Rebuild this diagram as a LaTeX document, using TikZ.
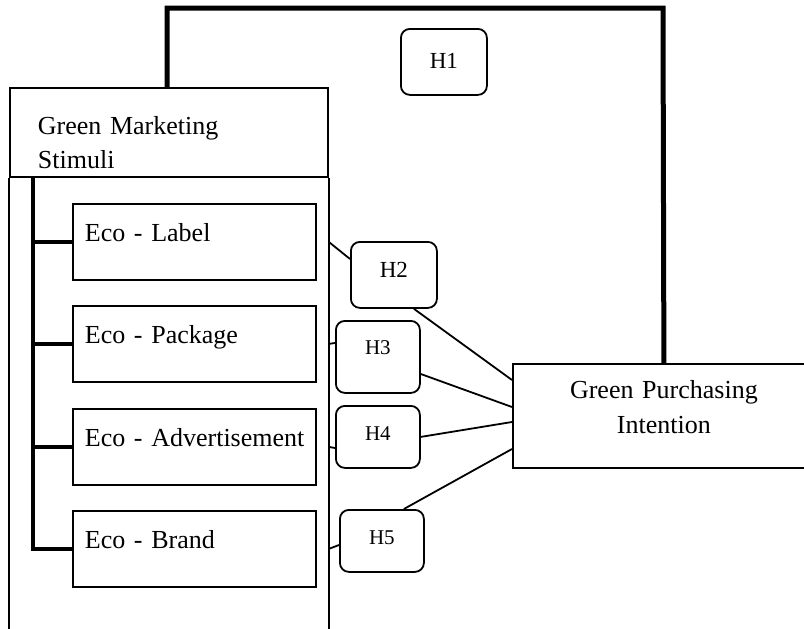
\documentclass[tikz,border=0pt]{standalone}
\usepackage{fontspec}
\setmainfont{Liberation Serif}
\usetikzlibrary{calc}
\begin{document}
\begin{tikzpicture}[x=1pt,y=-1pt,
  thinline/.style={line width=1.8pt},
  thickline/.style={line width=5pt, line join=miter},
  spine/.style={line width=3.6pt},
  box/.style={draw, line width=1.8pt, rectangle, inner sep=0pt, anchor=north west},
  ecobox/.style={box, text width=219pt, inner xsep=12pt, align=left,
    text height=38pt, text depth=38pt, font=\fontsize{26}{30}\selectfont},
  hbox/.style={box, rounded corners=9pt, align=center},
]
\useasboundingbox (0,0) rectangle (804,629);
\clip (0,0) rectangle (804,629);
\fill[white] (0,0) rectangle (804,629);

% header of the stimuli block
\node[box, text width=262pt, inner xsep=28pt, align=left, text height=47pt, text depth=42pt,
  font=\fontsize{26}{34}\selectfont] (gms) at (9,87) {Green Marketing\\Stimuli};
\draw[thinline] (gms.south west) -- ++(0,470);
\draw[thinline] (gms.south east) -- ++(0,470);

% eco boxes
\node[ecobox] (elabel) at (72,203) {\mbox{Eco - Label}};
\node[ecobox] (epack) at (72,305) {\mbox{Eco - Package}};
\node[ecobox] (eadv) at (72,408) {\mbox{Eco - Advertisement}};
\node[ecobox] (ebrand) at (72,510) {\mbox{Eco - Brand}};

% spine
\coordinate (spt) at ($(gms.south west)+(24,0)$);
\draw[spine] (spt) |- (ebrand.west);
\draw[spine] (elabel.west) -- (elabel.west -| spt);
\draw[spine] (epack.west) -- (epack.west -| spt);
\draw[spine] (eadv.west) -- (eadv.west -| spt);

% outcome
\node[box, text width=302pt, align=center, text height=35pt, text depth=69pt,
  font=\fontsize{26}{35}\selectfont] (gp) at (512,363) {Green Purchasing\\Intention};

% hypothesis boxes
\node[hbox, minimum width=86pt, text height=40pt, text depth=26pt, font=\fontsize{23}{26}\selectfont] (h1) at (400,28) {H1};
\node[hbox, minimum width=86pt, text height=36pt, text depth=30pt, font=\fontsize{23}{26}\selectfont] (h2) at (350,241) {H2};
\node[hbox, minimum width=84pt, text height=34pt, text depth=38pt, font=\fontsize{21}{24}\selectfont] (h3) at (335,320) {H3};
\node[hbox, minimum width=84pt, text height=35pt, text depth=27pt, font=\fontsize{21}{24}\selectfont] (h4) at (335,405) {H4};
\node[hbox, minimum width=84pt, text height=35pt, text depth=27pt, font=\fontsize{21}{24}\selectfont] (h5) at (339,509) {H5};

% H1 path
\coordinate (tr) at (663,8);
\draw[thickline] ([xshift=158pt]gms.north west) |- (tr) -- (gp.north);

% connectors
\draw[thinline] (gms.south east |- elabel.east) -- ([yshift=-18pt]h2.north west);
\draw[thinline] ([xshift=20pt]h2.south) -- ([yshift=-17pt]gp.north west);
\draw[thinline] (gms.south east |- epack.east) -- ([yshift=-23pt]h3.north west);
\draw[thinline] ([yshift=-54pt]h3.north east) -- ([yshift=-44pt]gp.north west);
\draw[thinline] (gms.south east |- eadv.east) -- ([yshift=-43pt]h4.north west);
\draw[thinline] (h4.east) -- ([yshift=-59pt]gp.north west);
\draw[thinline] (gms.south east |- ebrand.east) -- ([yshift=-36pt]h5.north west);
\draw[thinline] ([xshift=22pt]h5.north) -- ([yshift=-86pt]gp.north west);
\end{tikzpicture}
\end{document}
